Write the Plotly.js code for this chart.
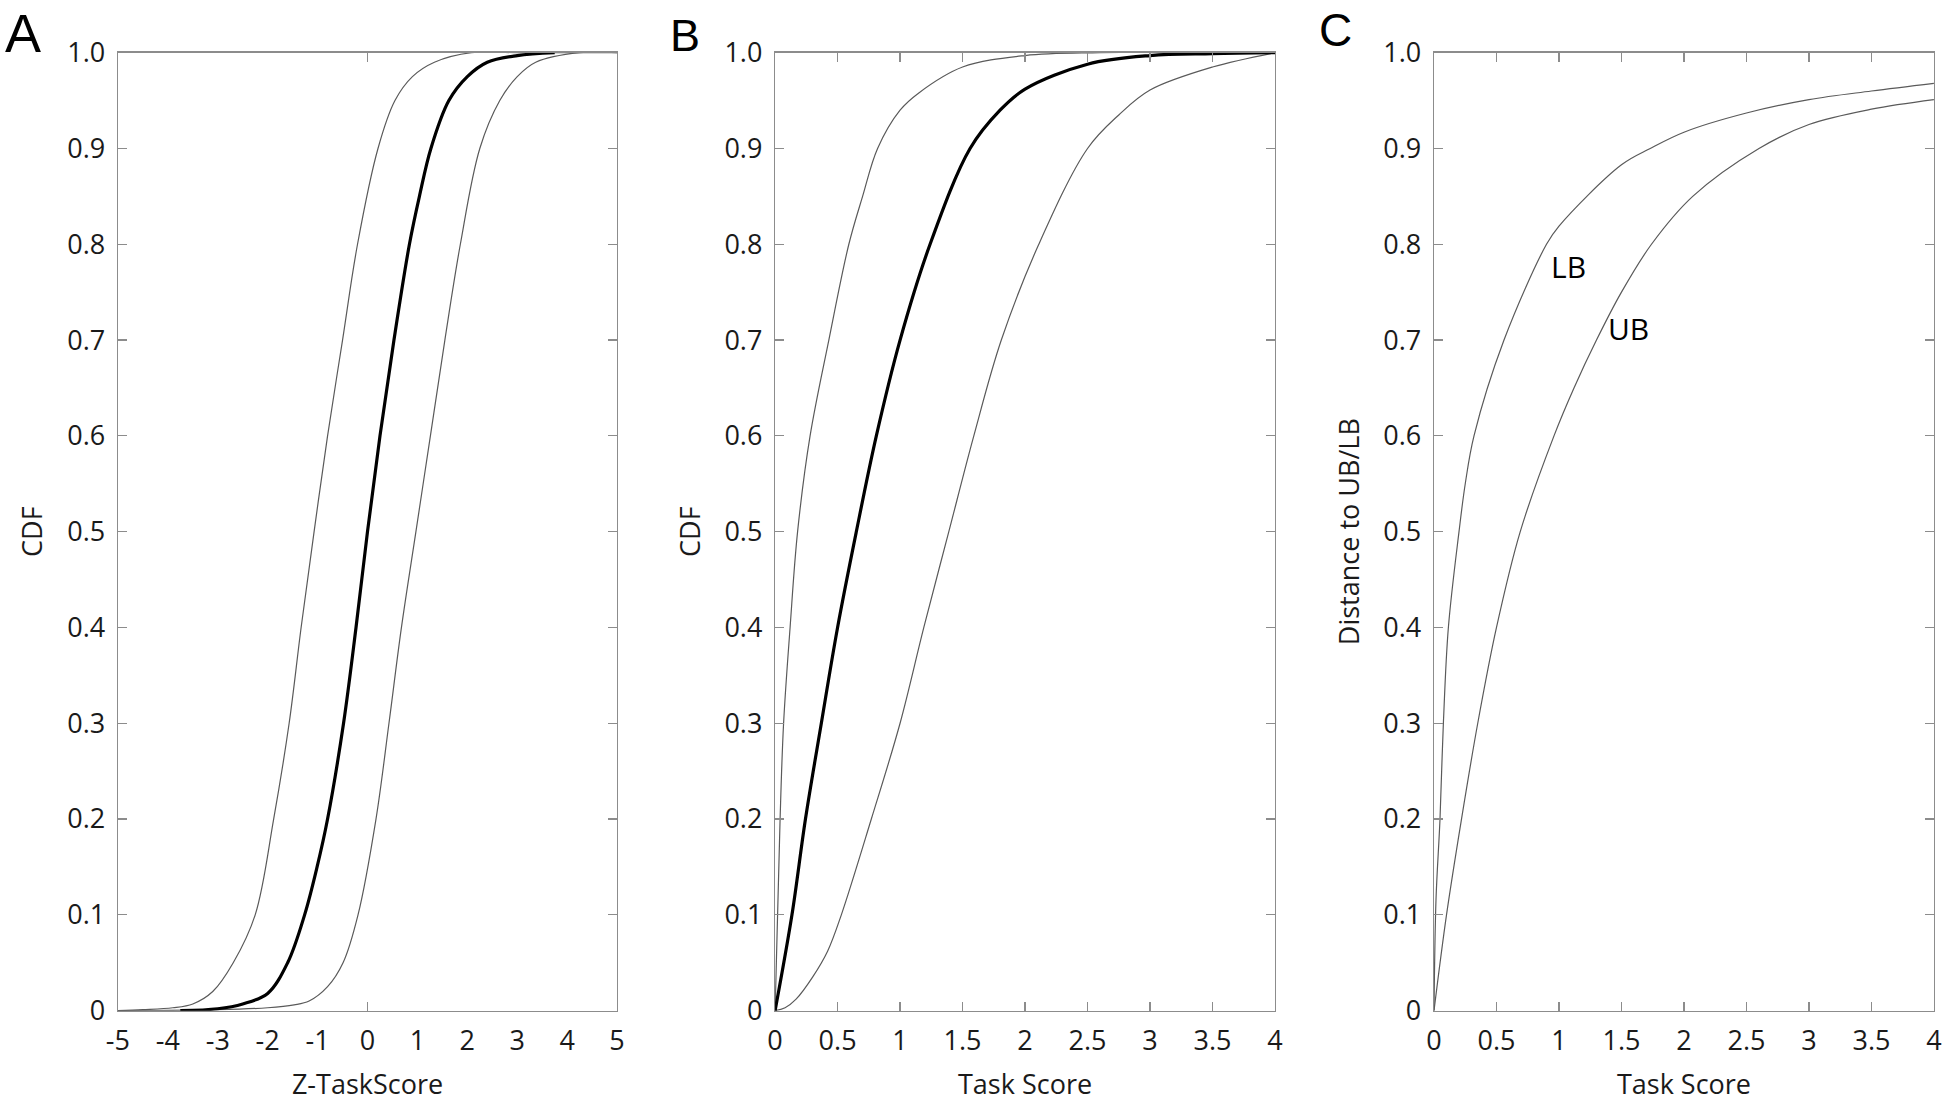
<!DOCTYPE html>
<html>
<head>
<meta charset="utf-8">
<script src="https://cdn.plot.ly/plotly-3.0.1.min.js"></script>
<style>html,body{margin:0;padding:0;background:#fff;}#chart{width:1946px;height:1102px;}</style>
</head>
<body>
<div id="chart"></div>
<script>
// ---------- Panel A : Z-TaskScore CDFs ----------
const aLowX  = [-5, -4.5, -3.9, -3.5, -3.1, -2.69, -2.25, -1.88, -1.57, -1.33, -1.07, -0.80, -0.50, -0.20, 0.21, 0.55, 0.9, 1.34, 2.08, 3, 5];
const aLowY  = [0, 0.001, 0.003, 0.007, 0.02, 0.05, 0.1, 0.2, 0.3, 0.4, 0.5, 0.6, 0.7, 0.8, 0.9, 0.95, 0.975, 0.99, 1.0, 1.0, 1.0];
const aMidX  = [-3.75, -3.0, -2.5, -2.0, -1.6, -1.26, -1.01, -0.80, -0.48, -0.23, 0.0, 0.25, 0.53, 0.84, 1.04, 1.27, 1.63, 2.0, 2.40, 3.0, 3.75];
const aMidY  = [0, 0.002, 0.007, 0.018, 0.05, 0.1, 0.15, 0.2, 0.3, 0.4, 0.5, 0.6, 0.7, 0.8, 0.85, 0.9, 0.95, 0.975, 0.99, 0.997, 1.0];
const aHighX = [-5, -3, -2, -1.47, -1.17, -0.80, -0.49, -0.19, 0.17, 0.43, 0.68, 0.97, 1.26, 1.55, 1.86, 2.25, 2.65, 3.0, 3.37, 4.25, 5];
const aHighY = [0, 0.001, 0.003, 0.006, 0.01, 0.025, 0.05, 0.1, 0.2, 0.3, 0.4, 0.5, 0.6, 0.7, 0.8, 0.9, 0.95, 0.975, 0.99, 1.0, 1.0];

// ---------- Panel B : Task Score CDFs ----------
const bLowX  = [0, 0.02, 0.04, 0.068, 0.12, 0.18, 0.28, 0.43, 0.59, 0.70, 0.82, 1.0, 1.15, 1.5, 2.0, 2.6, 4];
const bLowY  = [0, 0.1, 0.2, 0.3, 0.4, 0.5, 0.6, 0.7, 0.8, 0.85, 0.9, 0.94, 0.958, 0.985, 0.997, 1.0, 1.0];
const bMidX  = [0, 0.135, 0.243, 0.37, 0.50, 0.65, 0.81, 1.0, 1.24, 1.56, 1.8, 2.0, 2.5, 3.0, 3.5, 4];
const bMidY  = [0, 0.1, 0.2, 0.3, 0.4, 0.5, 0.6, 0.7, 0.8, 0.9, 0.94, 0.962, 0.988, 0.997, 0.999, 1.0];
const bHighX = [0, 0.08, 0.168, 0.3, 0.42, 0.53, 0.77, 1.0, 1.19, 1.39, 1.59, 1.81, 2.11, 2.5, 2.75, 3.0, 3.5, 4];
const bHighY = [0, 0.003, 0.012, 0.035, 0.062, 0.1, 0.2, 0.3, 0.4, 0.5, 0.6, 0.7, 0.8, 0.9, 0.935, 0.961, 0.985, 1.0];

// ---------- Panel C : Distance to UB/LB ----------
const cLbX = [0, 0.016, 0.048, 0.075, 0.115, 0.20, 0.25, 0.32, 0.56, 0.90, 1.0, 1.5, 1.73, 2.0, 2.5, 3.0, 3.5, 4];
const cLbY = [0, 0.116, 0.2, 0.3, 0.4, 0.5, 0.55, 0.6, 0.7, 0.8, 0.819, 0.883, 0.9, 0.917, 0.937, 0.951, 0.960, 0.968];
const cUbX = [0, 0.10, 0.22, 0.35, 0.50, 0.69, 0.96, 1.12, 1.30, 1.50, 1.74, 2.07, 2.6, 3.0, 3.5, 4];
const cUbY = [0, 0.1, 0.2, 0.3, 0.4, 0.5, 0.6, 0.65, 0.7, 0.75, 0.8, 0.85, 0.9, 0.925, 0.941, 0.951];

// ---------- Tick labels & text ----------
const yTickVals = [0, 0.1, 0.2, 0.3, 0.4, 0.5, 0.6, 0.7, 0.8, 0.9, 1.0];
const yTickText = ['0', '0.1', '0.2', '0.3', '0.4', '0.5', '0.6', '0.7', '0.8', '0.9', '1.0'];
const zTickVals = [-5, -4, -3, -2, -1, 0, 1, 2, 3, 4, 5];
const zTickText = ['-5', '-4', '-3', '-2', '-1', '0', '1', '2', '3', '4', '5'];
const sTickVals = [0, 0.5, 1, 1.5, 2, 2.5, 3, 3.5, 4];
const sTickText = ['0', '0.5', '1', '1.5', '2', '2.5', '3', '3.5', '4'];
const panelLetters = ['A', 'B', 'C'];
const xTitles = ['Z-TaskScore', 'Task Score', 'Task Score'];
const yTitles = ['CDF', 'CDF', 'Distance to UB/LB'];
const boundLabels = ['LB', 'UB'];

const FONT = '"Open Sans", "Noto Sans", sans-serif';
const LETTER_FONT = '"Liberation Sans", Arial, sans-serif';
const AXC = '#8c8c8c';
const THIN = {color: '#5a5a5a', width: 1.2, shape: 'spline', smoothing: 1.0};
const THICK = {color: '#000000', width: 3.2, shape: 'spline', smoothing: 1.0};

function tr(x, y, line, xa, ya) {
  return {type: 'scatter', mode: 'lines', x: x, y: y, line: line, xaxis: xa, yaxis: ya,
          hoverinfo: 'skip', showlegend: false};
}

const data = [
  tr(aLowX, aLowY, THIN, 'x', 'y'),
  tr(aHighX, aHighY, THIN, 'x', 'y'),
  tr(aMidX, aMidY, THICK, 'x', 'y'),
  tr(bLowX, bLowY, THIN, 'x2', 'y2'),
  tr(bHighX, bHighY, THIN, 'x2', 'y2'),
  tr(bMidX, bMidY, THICK, 'x2', 'y2'),
  tr(cLbX, cLbY, THIN, 'x3', 'y3'),
  tr(cUbX, cUbY, THIN, 'x3', 'y3')
];

const tickFont = {family: FONT, size: 27, color: '#1a1a1a'};
const titleFont = {family: FONT, size: 27, color: '#1a1a1a'};

function yAxis(anchor, title, standoff) {
  return {
    anchor: anchor, domain: [0.0829, 0.9522], range: [0, 1], fixedrange: true,
    tickmode: 'array', tickvals: yTickVals, ticktext: yTickText,
    ticks: 'inside', ticklen: 9, tickwidth: 1.2, tickcolor: AXC,
    showline: true, linecolor: AXC, linewidth: 1.3, mirror: 'ticks',
    showgrid: false, zeroline: false, tickfont: tickFont, ticklabelstandoff: 6,
    title: {text: title, font: titleFont, standoff: standoff}
  };
}
function xAxisS(anchor, domain, title) {
  return {
    anchor: anchor, domain: domain, range: [0, 4], fixedrange: true,
    tickmode: 'array', tickvals: sTickVals, ticktext: sTickText,
    ticks: 'inside', ticklen: 9, tickwidth: 1.2, tickcolor: AXC,
    showline: true, linecolor: AXC, linewidth: 1.3, mirror: 'ticks',
    showgrid: false, zeroline: false, tickfont: tickFont, ticklabelstandoff: 6,
    title: {text: title, font: titleFont, standoff: 20}
  };
}

const layout = {
  width: 1946, height: 1102,
  margin: {l: 0, r: 0, t: 0, b: 0, pad: 0},
  paper_bgcolor: '#ffffff', plot_bgcolor: '#ffffff',
  font: {family: FONT, color: '#1a1a1a'},
  showlegend: false,
  xaxis: {
    anchor: 'y', domain: [0.0606, 0.3171], range: [-5, 5], fixedrange: true,
    tickmode: 'array', tickvals: zTickVals, ticktext: zTickText,
    ticks: '', showline: true, linecolor: AXC, linewidth: 1.3, mirror: 'ticks',
    minor: {tickmode: 'array', tickvals: [0], ticks: 'inside', ticklen: 9, tickwidth: 1.2, tickcolor: AXC, showgrid: false},
    showgrid: false, zeroline: false, tickfont: tickFont, ticklabelstandoff: 6,
    title: {text: xTitles[0], font: titleFont, standoff: 20}
  },
  yaxis: yAxis('x', yTitles[0], 16),
  xaxis2: xAxisS('y2', [0.3983, 0.6552], xTitles[1]),
  yaxis2: yAxis('x2', yTitles[1], 16),
  xaxis3: xAxisS('y3', [0.7369, 0.9938], xTitles[2]),
  yaxis3: yAxis('x3', yTitles[2], 16),
  annotations: [
    {text: panelLetters[0], xref: 'paper', yref: 'paper', x: 0.0118, y: 0.9995, xanchor: 'center', yanchor: 'top', showarrow: false, font: {family: LETTER_FONT, size: 54, color: '#000'}},
    {text: panelLetters[1], xref: 'paper', yref: 'paper', x: 0.352, y: 0.9923, xanchor: 'center', yanchor: 'top', showarrow: false, font: {family: LETTER_FONT, size: 45, color: '#000'}},
    {text: panelLetters[2], xref: 'paper', yref: 'paper', x: 0.6865, y: 0.998, xanchor: 'center', yanchor: 'top', showarrow: false, font: {family: LETTER_FONT, size: 46, color: '#000'}},
    {text: boundLabels[0], xref: 'x3', yref: 'y3', x: 1.08, y: 0.777, xanchor: 'center', yanchor: 'middle', showarrow: false, font: {family: FONT, size: 30, color: '#000'}},
    {text: boundLabels[1], xref: 'x3', yref: 'y3', x: 1.56, y: 0.712, xanchor: 'center', yanchor: 'middle', showarrow: false, font: {family: FONT, size: 30, color: '#000'}}
  ]
};

Plotly.newPlot('chart', data, layout, {staticPlot: true, displayModeBar: false});
</script>
</body>
</html>
